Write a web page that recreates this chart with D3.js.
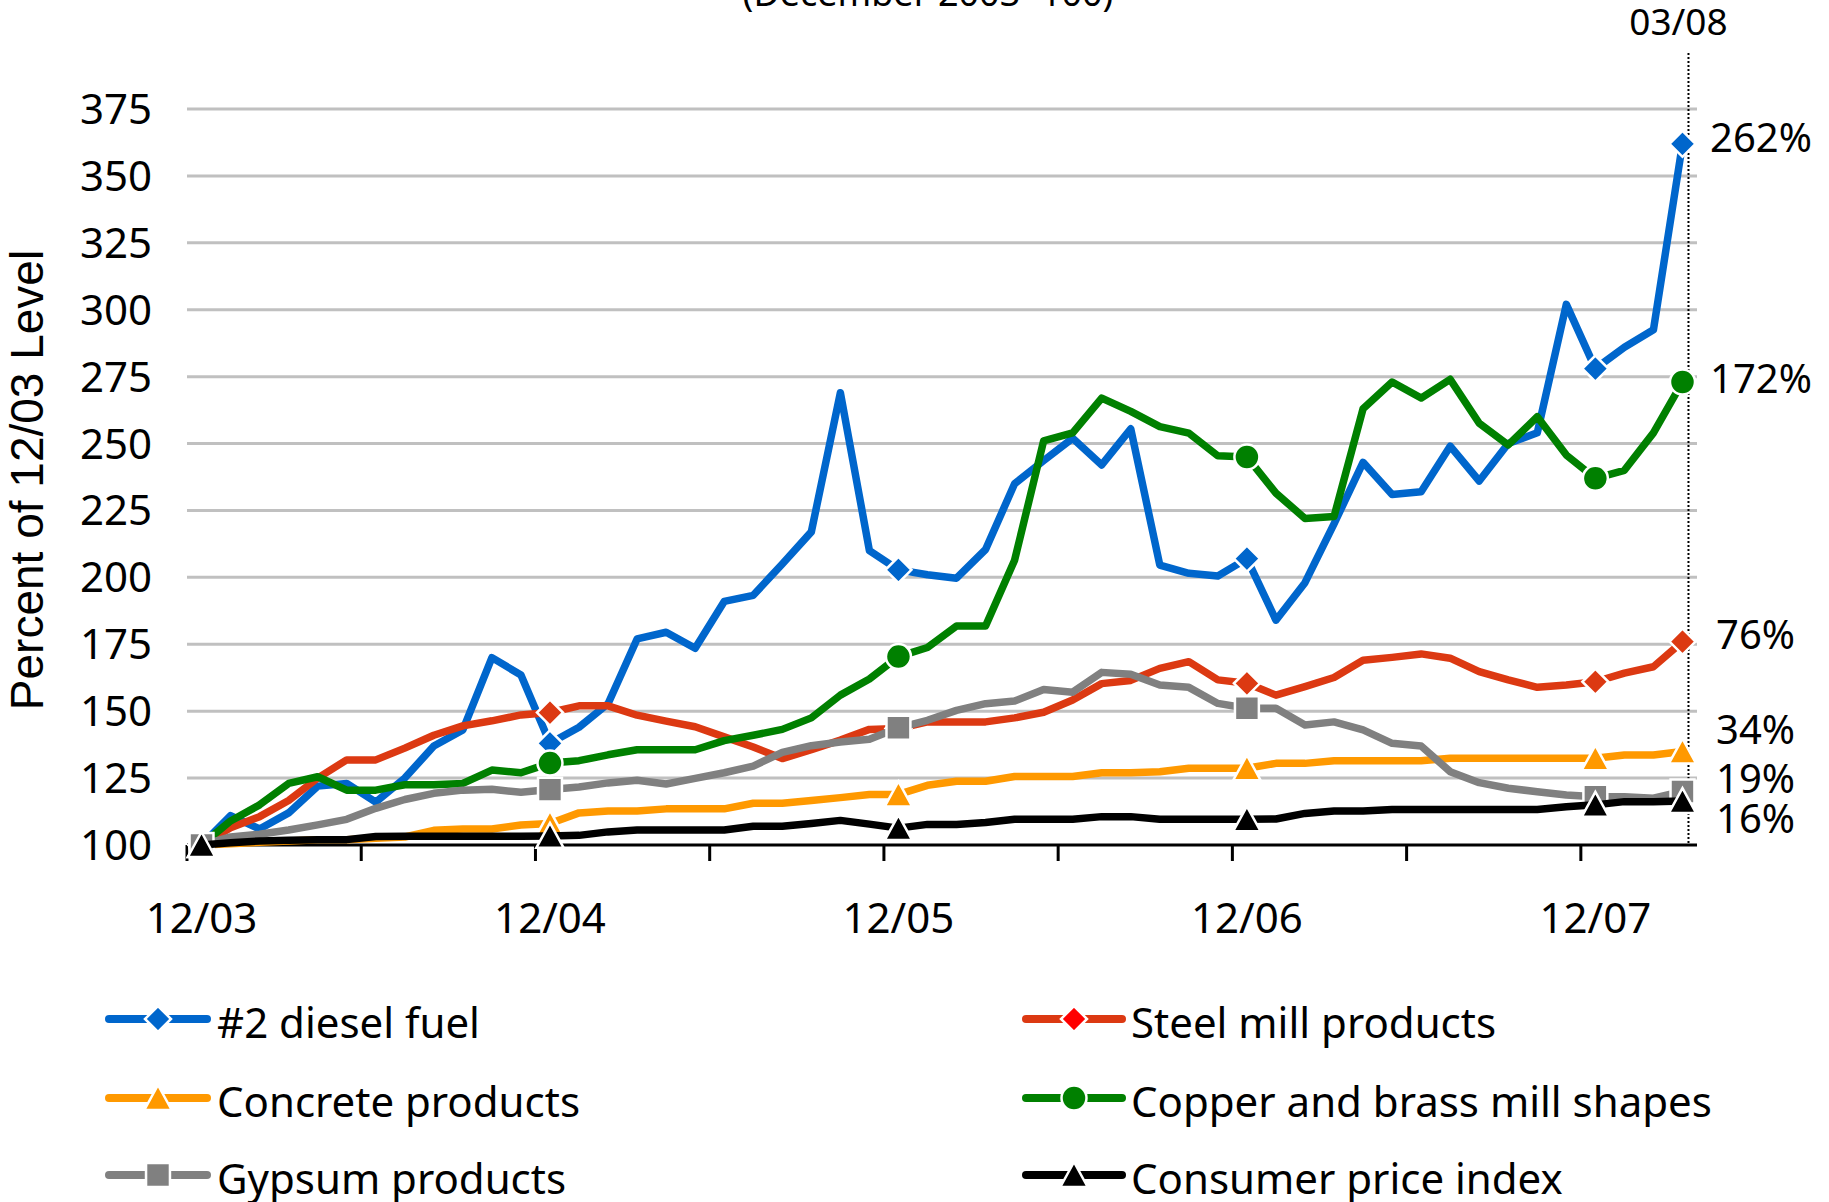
<!DOCTYPE html>
<html>
<head>
<meta charset="utf-8">
<script src="https://cdn.jsdelivr.net/npm/d3@7"></script>
<style>
  html, body { margin: 0; padding: 0; background: #fff; }
  svg { display: block; }
</style>
</head>
<body>
<svg id="chart" width="1829" height="1202"></svg>
<script>
// ---------- DATA ----------
const months = [
  "12/03","01/04","02/04","03/04","04/04","05/04","06/04","07/04","08/04","09/04","10/04","11/04",
  "12/04","01/05","02/05","03/05","04/05","05/05","06/05","07/05","08/05","09/05","10/05","11/05",
  "12/05","01/06","02/06","03/06","04/06","05/06","06/06","07/06","08/06","09/06","10/06","11/06",
  "12/06","01/07","02/07","03/07","04/07","05/07","06/07","07/07","08/07","09/07","10/07","11/07",
  "12/07","01/08","02/08","03/08"
];
const xTickLabels = ["12/03","12/04","12/05","12/06","12/07"];
const yTicks = [100,125,150,175,200,225,250,275,300,325,350,375];
const markerMonths = ["12/03","12/04","12/05","12/06","12/07","03/08"];

const diesel = [100,111,106,112,122,123,116,125,137,143,170,163.5,
  138,144,152.8,177,179.5,173.5,191,193.3,205,217,269,210,
  202.8,201,199.7,210.4,235,243.6,252,242,255.5,204.6,201.5,200.5,
  207,184,198,220,243,231,232,249,236,250,254,302,
  278,286,292.5,362];
const steel = [100,106.4,110.6,116.6,125,131.8,131.8,136.2,141,144.5,146.4,148.6,
  149.5,152,152,148.5,146.3,144.2,140.4,136.6,132.3,135.6,139.2,143.2,
  143.5,146,146,146,147.5,149.6,154.2,160.3,161.5,166,168.5,161.7,
  160.4,156,159.2,162.6,169,170.1,171.4,169.8,164.8,161.7,158.9,159.8,
  161,164.2,166.6,176];
const concrete = [100,100.5,101,101.5,102,102,102.5,103,105.5,106,106,107.5,
  108,112,112.7,112.7,113.5,113.5,113.5,115.6,115.6,116.6,117.7,118.9,
  118.9,122.3,123.8,123.8,125.6,125.6,125.6,127,127,127.4,128.7,128.7,
  128.7,130.5,130.5,131.5,131.5,131.5,131.5,132.4,132.4,132.4,132.4,132.4,
  132.4,133.6,133.6,134.9];
const copper = [100,109,115,123,125.5,120.5,120.5,122.5,122.5,123,128,127,
  130.6,131.5,133.7,135.6,135.6,135.6,139,141,143.2,147.5,156,162,
  170.4,173.8,181.8,181.8,206.4,251,254,267,262,256.3,253.9,245.4,
  245,231.5,222,222.7,263,273,267,274,257.6,249.5,260,245.7,
  237,240,254,273];
const gypsum = [100,103,104,105.6,107.5,109.6,113.7,117,119.3,120.5,120.8,119.7,
  120.7,121.7,123.2,124.2,122.8,124.9,127,129.5,134.6,137.1,138.5,139.5,
  143.8,146.6,150.3,152.8,153.8,158.1,157.1,164.5,163.8,159.8,158.9,152.9,
  151.1,151.1,144.8,146,143,138,137,127.4,123.3,121.2,119.9,118.7,
  118,118,117.5,120];
const cpi = [100,100.8,101.5,101.8,102,102,103.2,103.3,103.3,103.3,103.3,103.3,
  103.4,103.6,104.9,105.6,105.6,105.6,105.6,107,107,108,109.2,107.8,
  106.3,107.7,107.7,108.4,109.6,109.6,109.6,110.6,110.6,109.6,109.6,109.6,
  109.6,109.7,111.8,112.7,112.7,113.3,113.3,113.3,113.3,113.3,113.3,114.3,
  115,116.2,116.2,116.4];

const seriesNames = ["#2 diesel fuel","Steel mill products","Concrete products",
  "Copper and brass mill shapes","Gypsum products","Consumer price index"];
const endLabels = ["262%","172%","76%","34%","19%","16%"];
const endLabelValues = [364.6, 274.5, 178.8, 143.3, 125, 110]; // vertical centre of each end label, in chart units

// ---------- STYLE ----------
const colors = ["#0066CC","#DC3912","#FF9900","#008000","#808080","#000000"];
const legendMarkerColors = ["#0066CC","#FF0000","#FF9900","#008000","#808080","#000000"];
const shapes = ["diamond","diamond","triangle","circle","square","triangle"];
const FONT = "'Noto Sans', 'DejaVu Sans', sans-serif";

const allSeries = [diesel, steel, concrete, copper, gypsum, cpi];

const svg = d3.select("#chart");
svg.append("rect").attr("width",1829).attr("height",1202).attr("fill","#fff");

const x = d3.scalePoint().domain(months).range([187, 1697]).padding(0.5);
const y = d3.scaleLinear().domain([100, 375]).range([845, 109]);
const step = x.step();

// title (cut off at top)
svg.append("text").attr("x", 928).attr("y", 6)
  .attr("text-anchor","middle").attr("font-family",FONT).attr("font-size",36)
  .text("(December 2003=100)");

// gridlines
svg.append("g").selectAll("line").data(yTicks.filter(d => d > 100)).join("line")
  .attr("x1", 187).attr("x2", 1697)
  .attr("y1", d => y(d)).attr("y2", d => y(d))
  .attr("stroke", "#C0C0C0").attr("stroke-width", 3);

// y tick labels
svg.append("g").selectAll("text").data(yTicks).join("text")
  .attr("x", 152).attr("y", d => y(d) + 15)
  .attr("text-anchor","end").attr("font-family",FONT).attr("font-size",42)
  .text(d => d);

// y axis title
svg.append("text")
  .attr("transform", "translate(43,480) rotate(-90)")
  .attr("text-anchor","middle")
  .attr("font-family","'Liberation Sans', Arial, sans-serif").attr("font-size",46)
  .text("Percent of 12/03 Level");

// x baseline
svg.append("line").attr("x1",187).attr("x2",1697)
  .attr("y1", y(100)).attr("y2", y(100))
  .attr("stroke","#000").attr("stroke-width",3);

// tick marks every 6 months at category boundaries
const tickIdx = d3.range(0, months.length + 1, 6);
svg.append("g").selectAll("line").data(tickIdx).join("line")
  .attr("x1", d => 187 + d * step).attr("x2", d => 187 + d * step)
  .attr("y1", y(100)).attr("y2", y(100) + 16)
  .attr("stroke","#000").attr("stroke-width",3);

// x labels
svg.append("g").selectAll("text").data(xTickLabels).join("text")
  .attr("x", d => x(d)).attr("y", 933)
  .attr("text-anchor","middle").attr("font-family",FONT).attr("font-size",42)
  .text(d => d);

// dotted reference line at last month
const lastX = x(months[months.length - 1]) + 6;
svg.append("line").attr("x1", lastX).attr("x2", lastX)
  .attr("y1", 53).attr("y2", y(100))
  .attr("stroke","#000").attr("stroke-width",2).attr("stroke-dasharray","2,2");
svg.append("text").attr("x", lastX - 10).attr("y", 35)
  .attr("text-anchor","middle").attr("font-family",FONT).attr("font-size",37)
  .text(months[months.length - 1]);

// marker path generator
function markerPath(shape, s) {
  if (shape === "diamond") return `M0,${-s}L${s},0L0,${s}L${-s},0Z`;
  if (shape === "square") return `M${-s*0.92},${-s*0.92}H${s*0.92}V${s*0.92}H${-s*0.92}Z`;
  if (shape === "triangle") return `M0,${-s}L${s*1.05},${s*0.92}L${-s*1.05},${s*0.92}Z`;
  return null;
}
function drawMarker(g, shape, cx, cy, fill, s) {
  if (shape === "circle") {
    g.append("circle").attr("cx",cx).attr("cy",cy).attr("r",s)
      .attr("fill",fill).attr("stroke","#fff").attr("stroke-width",2.5);
  } else {
    g.append("path").attr("d", markerPath(shape, s))
      .attr("transform",`translate(${cx},${cy})`)
      .attr("fill",fill).attr("stroke","#fff").attr("stroke-width",2.5)
      .attr("stroke-linejoin","miter");
  }
}

const line = d3.line().x((d,i) => x(months[i])).y(d => y(d));

allSeries.forEach((vals, si) => {
  const g = svg.append("g");
  g.append("path").datum(vals).attr("d", line)
    .attr("fill","none").attr("stroke",colors[si]).attr("stroke-width",7.5)
    .attr("stroke-linejoin","round").attr("stroke-linecap","round");
  markerMonths.forEach(m => {
    const i = months.indexOf(m);
    const s = shapes[si] === "circle" ? 12.5 : 13;
    drawMarker(g, shapes[si], x(m), y(vals[i]), colors[si], s);
  });
});

// end labels
svg.append("g").selectAll("text").data(endLabels).join("text")
  .attr("x", (d,i) => i < 2 ? 1710 : 1716)
  .attr("y", (d,i) => y(endLabelValues[i]) + 15)
  .attr("font-family",FONT).attr("font-size",40)
  .text(d => d);

// legend
const legendCols = [[109, 207, 217], [1026, 1122, 1131]];
const legendRows = [1038, 1117, 1194];
seriesNames.forEach((name, si) => {
  const col = legendCols[si % 2];
  const rowY = legendRows[Math.floor(si / 2)];
  const ly = rowY - 19;
  const g = svg.append("g");
  g.append("line").attr("x1", col[0]).attr("x2", col[1]).attr("y1", ly).attr("y2", ly)
    .attr("stroke", colors[si]).attr("stroke-width", 8).attr("stroke-linecap","round");
  drawMarker(g, shapes[si], (col[0] + col[1]) / 2, ly, legendMarkerColors[si], shapes[si] === "circle" ? 12.5 : 13);
  g.append("text").attr("x", col[2]).attr("y", rowY)
    .attr("font-family",FONT).attr("font-size",42).text(name);
});
</script>
</body>
</html>
